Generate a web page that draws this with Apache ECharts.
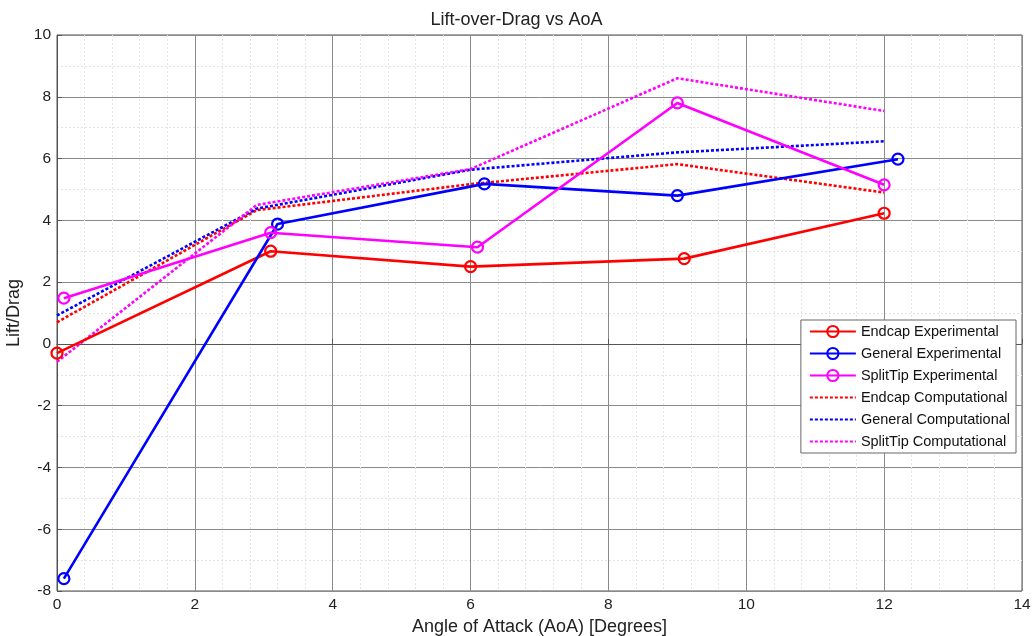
<!DOCTYPE html>
<html>
<head>
<meta charset="utf-8">
<script src="https://cdn.jsdelivr.net/npm/echarts@6/dist/echarts.min.js"></script>
<style>
  html, body { margin: 0; padding: 0; background: #fff; }
  #chart { width: 1033px; height: 636px; }
</style>
</head>
<body>
<div id="chart"></div>
<script>
// Angle of attack (degrees) and lift-over-drag values per configuration
const endcapExpAoA = [0, 3.1, 6.0, 9.1, 12.0];
const endcapExpLD = [-0.3, 3.0, 2.5, 2.76, 4.23];

const generalExpAoA = [0.1, 3.2, 6.2, 9.0, 12.2];
const generalExpLD = [-7.6, 3.88, 5.18, 4.8, 5.98];

const splitTipExpAoA = [0.1, 3.1, 6.1, 9.0, 12.0];
const splitTipExpLD = [1.48, 3.6, 3.13, 7.8, 5.15];

const compAoA = [0, 2.9, 6.0, 9.0, 12.0];
const endcapCompLD = [0.7, 4.33, 5.17, 5.82, 4.9];
const generalCompLD = [0.92, 4.38, 5.64, 6.2, 6.56];
const splitTipCompLD = [-0.58, 4.5, 5.66, 8.6, 7.54];

const xTicks = [0, 2, 4, 6, 8, 10, 12, 14];
const yTicks = [-8, -6, -4, -2, 0, 2, 4, 6, 8, 10];

const RED = '#ff0000', BLUE = '#0000ff', MAGENTA = '#ff00ff';

function pairs(xs, ys) { return xs.map((x, i) => [x, ys[i]]); }

function expSeries(name, color, xs, ys) {
  return {
    name, type: 'line', data: pairs(xs, ys),
    symbol: 'circle', symbolSize: 11, showSymbol: true,
    lineStyle: { color, width: 2.6 },
    itemStyle: { color: 'rgba(255,255,255,0)', borderColor: color, borderWidth: 2.2 },
    emphasis: { disabled: true }, animation: false, z: 3
  };
}
function compSeries(name, color, xs, ys) {
  return {
    name, type: 'line', data: pairs(xs, ys),
    symbol: 'none',
    lineStyle: { color, width: 2.6, type: [3, 2] },
    // no markers: keep the legend swatch to the dotted line only
    itemStyle: { color: 'rgba(0,0,0,0)', borderWidth: 0 },
    emphasis: { disabled: true }, animation: false, z: 2
  };
}

const font = 'Arial, "Liberation Sans", Helvetica, sans-serif';
const chart = echarts.init(document.getElementById('chart'), null, { renderer: 'canvas' });

chart.setOption({
  backgroundColor: '#ffffff',
  animation: false,
  textStyle: { fontFamily: font },
  title: {
    text: 'Lift-over-Drag vs AoA', left: 'center', top: 6,
    textStyle: { fontFamily: font, fontSize: 18, fontWeight: 'normal', color: '#222' }
  },
  grid: {
    left: 57, right: 11, top: 35, bottom: 45,
    outerBoundsMode: 'none', containLabel: false,
    show: true, borderColor: '#555', borderWidth: 1, backgroundColor: '#fff'
  },
  legend: {
    orient: 'vertical', right: 17, top: 320,
    backgroundColor: '#fff', borderColor: '#666', borderWidth: 1,
    padding: [4, 6, 4, 8], itemGap: 7, itemWidth: 46, itemHeight: 14,
    textStyle: { fontFamily: font, fontSize: 14.5, color: '#111' },
    data: ['Endcap Experimental', 'General Experimental', 'SplitTip Experimental',
           'Endcap Computational', 'General Computational', 'SplitTip Computational']
  },
  xAxis: {
    type: 'value', min: xTicks[0], max: xTicks[xTicks.length - 1], interval: 2,
    name: 'Angle of Attack (AoA) [Degrees]', nameLocation: 'middle', nameGap: 25,
    nameTextStyle: { fontFamily: font, fontSize: 18, color: '#222' },
    axisLine: { show: true, lineStyle: { color: '#555' } },
    axisTick: { show: true, inside: true, length: 5, lineStyle: { color: '#555' } },
    axisLabel: { fontFamily: font, fontSize: 15.5, color: '#222', margin: 6 },
    splitLine: { show: true, lineStyle: { color: '#8a8a8a', width: 1 } },
    minorTick: { show: false, splitNumber: 5 },
    minorSplitLine: { show: true, lineStyle: { color: '#e4e4e4', width: 1, type: [2, 2] } }
  },
  yAxis: {
    type: 'value', min: yTicks[0], max: yTicks[yTicks.length - 1], interval: 2,
    name: 'Lift/Drag', nameLocation: 'middle', nameGap: 28, nameRotate: 90,
    nameTextStyle: { fontFamily: font, fontSize: 18, color: '#222' },
    axisLine: { show: true, onZero: false, lineStyle: { color: '#555' } },
    axisTick: { show: true, inside: true, length: 5, lineStyle: { color: '#555' } },
    axisLabel: { fontFamily: font, fontSize: 15.5, color: '#222', margin: 6 },
    splitLine: { show: true, lineStyle: { color: '#8a8a8a', width: 1 } },
    minorTick: { show: false, splitNumber: 2 },
    minorSplitLine: { show: true, lineStyle: { color: '#e4e4e4', width: 1, type: [2, 2] } }
  },
  series: [
    expSeries('Endcap Experimental', RED, endcapExpAoA, endcapExpLD),
    expSeries('General Experimental', BLUE, generalExpAoA, generalExpLD),
    expSeries('SplitTip Experimental', MAGENTA, splitTipExpAoA, splitTipExpLD),
    compSeries('Endcap Computational', RED, compAoA, endcapCompLD),
    compSeries('General Computational', BLUE, compAoA, generalCompLD),
    compSeries('SplitTip Computational', MAGENTA, compAoA, splitTipCompLD)
  ]
});
</script>
</body>
</html>
